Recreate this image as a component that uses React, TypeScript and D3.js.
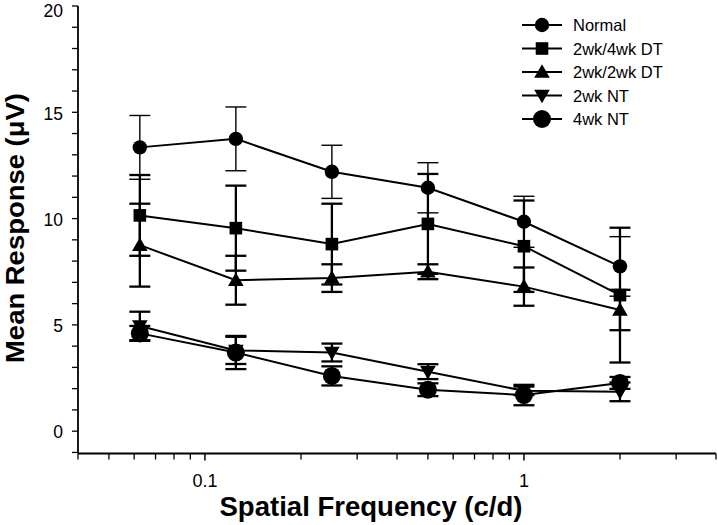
import React from "react";
import * as d3 from "d3";

const freqs = [0.0625, 0.125, 0.25, 0.5, 1, 2];

const normalMean = [13.35, 13.75, 12.2, 11.45, 9.85, 7.75];
const normalErr = [1.5, 1.5, 1.25, 1.18, 1.2, 1.4];

const dt4Mean = [10.15, 9.55, 8.8, 9.75, 8.7, 6.4];
const dt4Err = [1.9, 2.0, 1.9, 2.35, 2.15, 3.17];

const dt2Mean = [8.75, 7.1, 7.2, 7.5, 6.8, 5.7];
const dt2Err = [1.95, 1.15, 0.65, 0.35, 0.9, 0.95];

const nt2Mean = [4.95, 3.8, 3.7, 2.8, 1.9, 1.85];
const nt2Err = [0.67, 0.64, 0.42, 0.35, 0.2, 0.44];

const nt4Mean = [4.6, 3.7, 2.6, 1.95, 1.7, 2.27];
const nt4Err = [0.35, 0.78, 0.45, 0.3, 0.48, 0.28];

const seriesNames = ["Normal", "2wk/4wk DT", "2wk/2wk DT", "2wk NT", "4wk NT"];
const markerTypes = ["circle", "square", "triangleUp", "triangleDown", "bigCircle"];

const xMajorTicks = [0.1, 1];
const xMinorTicks = [0.04, 0.05, 0.06, 0.07, 0.08, 0.09, 0.2, 0.3, 0.4, 0.5, 0.6, 0.7, 0.8, 0.9, 2, 3, 4];
const yMajorTicks = [0, 5, 10, 15, 20];

const FONT = "'Liberation Sans', Arial, Helvetica, sans-serif";

function Marker({ type, cx, cy }: { type: string; cx: number; cy: number }) {
  if (type === "circle") return <circle cx={cx} cy={cy} r={7.2} fill="#000" />;
  if (type === "bigCircle") return <circle cx={cx} cy={cy} r={9} fill="#000" />;
  if (type === "square") return <rect x={cx - 6.3} y={cy - 6.3} width={12.6} height={12.6} fill="#000" />;
  if (type === "triangleUp") {
    const w = 7.8, h = 13.5;
    return <path d={`M${cx},${cy - h / 2 - 1}L${cx + w},${cy + h / 2 - 1}L${cx - w},${cy + h / 2 - 1}Z`} fill="#000" />;
  }
  const w = 7.8, h = 13.5;
  return <path d={`M${cx},${cy + h / 2 + 1}L${cx + w},${cy - h / 2 + 1}L${cx - w},${cy - h / 2 + 1}Z`} fill="#000" />;
}

export default function App() {
  const x = d3.scaleLog().domain([0.04, 4]).range([78, 716]);
  const y = d3.scaleLinear().domain([-1.05, 20]).range([453.5, 6]);

  const series = [
    { name: seriesNames[0], mean: normalMean, err: normalErr, type: markerTypes[0], ew: 1.4 },
    { name: seriesNames[1], mean: dt4Mean, err: dt4Err, type: markerTypes[1], ew: 2.3 },
    { name: seriesNames[2], mean: dt2Mean, err: dt2Err, type: markerTypes[2], ew: 2.3 },
    { name: seriesNames[3], mean: nt2Mean, err: nt2Err, type: markerTypes[3], ew: 2.3 },
    { name: seriesNames[4], mean: nt4Mean, err: nt4Err, type: markerTypes[4], ew: 2.3 },
  ];

  const line = d3
    .line<[number, number]>()
    .x((d) => x(d[0]))
    .y((d) => y(d[1]));

  const yMinor = d3.range(-1, 21, 1);
  const capHalf = 10.5;
  const axisY = 453.5;
  const axisX = 78;

  return (
    <svg width={718} height={525} style={{ position: "absolute", left: 0, top: 0, background: "#fff" }} fontFamily={FONT}>
      <rect width={718} height={525} fill="#fff" />
      {/* axes */}
      <line x1={axisX} x2={716} y1={axisY} y2={axisY} stroke="#000" strokeWidth={1.8} />
      <line x1={axisX} x2={axisX} y1={y(20)} y2={axisY} stroke="#000" strokeWidth={1.8} />
      {xMinorTicks.map((t) => (
        <line key={"xm" + t} x1={x(t)} x2={x(t)} y1={axisY} y2={axisY + 6} stroke="#000" strokeWidth={1.3} />
      ))}
      {xMajorTicks.map((t) => (
        <g key={"xM" + t}>
          <line x1={x(t)} x2={x(t)} y1={axisY} y2={axisY + 7} stroke="#000" strokeWidth={1.5} />
          <text x={x(t)} y={487} fontSize={18} textAnchor="middle" fill="#000">
            {String(t)}
          </text>
        </g>
      ))}
      {yMinor.map((t) => (
        <line key={"ym" + t} x1={axisX - 6} x2={axisX} y1={y(t)} y2={y(t)} stroke="#000" strokeWidth={1.3} />
      ))}
      {yMajorTicks.map((t) => (
        <text key={"yl" + t} x={63} y={Math.max(y(t) + 7.3, 16.5)} fontSize={17.5} textAnchor="end" fill="#000">
          {t}
        </text>
      ))}
      {/* axis titles */}
      <text
        x={371}
        y={516}
        fontSize={28}
        fontWeight="bold"
        textAnchor="middle"
        textLength={303}
        lengthAdjust="spacingAndGlyphs"
        fill="#000"
      >
        Spatial Frequency (c/d)
      </text>
      <text
        transform="translate(23.5,228) rotate(-90)"
        fontSize={26.5}
        fontWeight="bold"
        textAnchor="middle"
        textLength={270}
        lengthAdjust="spacingAndGlyphs"
        fill="#000"
      >
        Mean Response (μV)
      </text>
      {/* series */}
      {series.map((s) => (
        <g key={s.name}>
          <path
            d={line(freqs.map((f, i) => [f, s.mean[i]] as [number, number])) || ""}
            fill="none"
            stroke="#000"
            strokeWidth={2}
          />
          {freqs.map((f, i) => {
            const cx = x(f);
            const top = y(s.mean[i] + s.err[i]);
            const bot = y(s.mean[i] - s.err[i]);
            return (
              <g key={i}>
                <line x1={cx} x2={cx} y1={top} y2={bot} stroke="#000" strokeWidth={s.ew} />
                <line x1={cx - capHalf} x2={cx + capHalf} y1={top} y2={top} stroke="#000" strokeWidth={s.ew} />
                <line x1={cx - capHalf} x2={cx + capHalf} y1={bot} y2={bot} stroke="#000" strokeWidth={s.ew} />
              </g>
            );
          })}
          {freqs.map((f, i) => (
            <Marker key={"m" + i} type={s.type} cx={x(f)} cy={y(s.mean[i])} />
          ))}
        </g>
      ))}
      {/* legend */}
      {series.map((s, i) => {
        const ry = 25 + i * 23.5;
        return (
          <g key={"lg" + i}>
            <line x1={522} x2={562} y1={ry} y2={ry} stroke="#000" strokeWidth={2} />
            <Marker type={s.type} cx={542} cy={ry} />
            <text x={573} y={ry + 6} fontSize={16.5} fill="#000">
              {s.name}
            </text>
          </g>
        );
      })}
    </svg>
  );
}
